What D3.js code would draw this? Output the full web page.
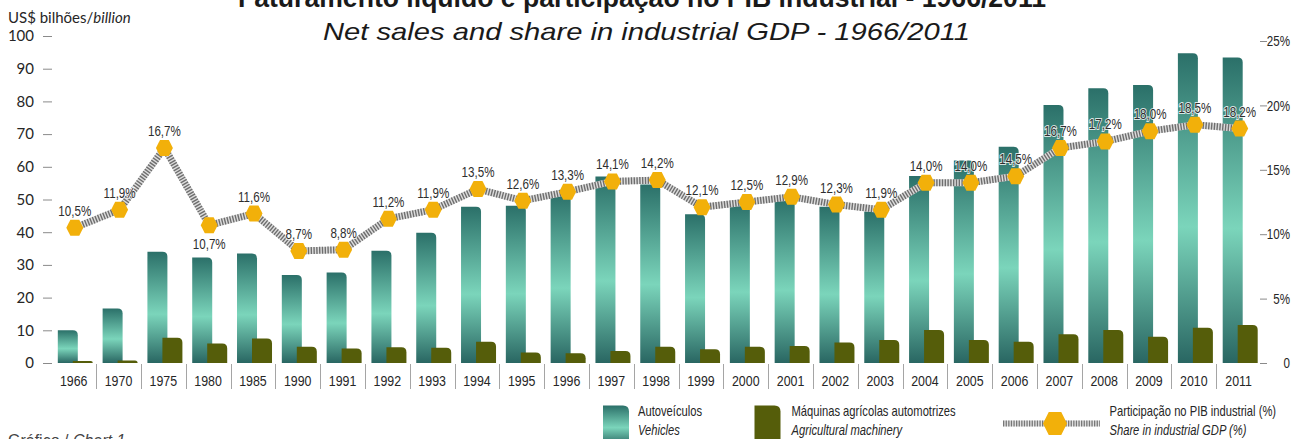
<!DOCTYPE html>
<html>
<head>
<meta charset="utf-8">
<script src="https://cdn.jsdelivr.net/npm/d3@7"></script>
<style>
  html, body { margin: 0; padding: 0; background: #fff; }
  svg { display: block; }
</style>
</head>
<body>
<svg id="chart" width="1300" height="439"></svg>
<script>
// ---------------- data ----------------
const categories = ["1966","1970","1975","1980","1985","1990","1991","1992","1993","1994","1995","1996","1997","1998","1999","2000","2001","2002","2003","2004","2005","2006","2007","2008","2009","2010","2011"];
const vehicles = [10.0,16.7,34.0,32.3,33.5,26.9,27.7,34.3,39.8,47.8,48.1,52.1,57.0,54.6,45.5,49.3,50.4,47.8,46.3,57.2,61.9,66.1,78.9,84.0,85.0,94.7,93.4];
const agMachinery = [0.6,0.8,7.7,6.0,7.5,5.0,4.4,4.8,4.7,6.5,3.2,3.0,3.7,5.0,4.2,5.0,5.2,6.3,7.0,10.1,7.0,6.5,8.8,10.1,8.0,10.8,11.6];
const gdpShare = [10.5,11.9,16.7,10.7,11.6,8.7,8.8,11.2,11.9,13.5,12.6,13.3,14.1,14.2,12.1,12.5,12.9,12.3,11.9,14.0,14.0,14.5,16.7,17.2,18.0,18.5,18.2];
const leftTicks = [0,10,20,30,40,50,60,70,80,90,100];
const rightTicks = [0,5,10,15,20,25];

const titlePt = "Faturamento líquido e participação no PIB industrial - 1966/2011";
const titleEn = "Net sales and share in industrial GDP - 1966/2011";

// ---------------- setup ----------------
const svg = d3.select("#chart");
const SANS = '"Liberation Sans", Arial, sans-serif';
const SX = 0.8; // horizontal squeeze to emulate a narrow face
const TEXT = "#262626";

const x = d3.scaleBand().domain(categories).range([51.3, 1261]).padding(0);
const yL = d3.scaleLinear().domain([0, 100]).range([363, 36]);
const yR = d3.scaleLinear().domain([0, 25]).range([363, 41]);

const defs = svg.append("defs");
const grad = defs.append("linearGradient").attr("id", "vehGrad")
  .attr("x1", 0).attr("y1", 0).attr("x2", 0).attr("y2", 1);
grad.append("stop").attr("offset", "0").attr("stop-color", "#2b7069");
grad.append("stop").attr("offset", "0.56").attr("stop-color", "#7bd5bb");
grad.append("stop").attr("offset", "1").attr("stop-color", "#296662");

function barPath(x0, w, yTop, yBase, r) {
  const h = yBase - yTop;
  const rr = Math.max(0, Math.min(r, h, w / 2));
  return `M${x0},${yBase}V${yTop}H${x0 + w - rr}Q${x0 + w},${yTop} ${x0 + w},${yTop + rr}V${yBase}Z`;
}
function hexPath(cx, cy, hw, hh) {
  const k = hw * 0.52;
  return `M${cx - hw},${cy}L${cx - k},${cy - hh}L${cx + k},${cy - hh}L${cx + hw},${cy}L${cx + k},${cy + hh}L${cx - k},${cy + hh}Z`;
}
// narrow text placed at (tx, ty)
function narrowText(parent, tx, ty, size) {
  return parent.append("text")
    .attr("transform", `translate(${tx},${ty}) scale(${SX},1)`)
    .attr("font-family", SANS).attr("font-size", size).attr("fill", TEXT);
}

// ---------------- titles ----------------
svg.append("text")
  .attr("x", 238).attr("y", 7)
  .attr("font-family", SANS).attr("font-weight", "bold").attr("font-size", 28)
  .attr("fill", "#1a1a1a")
  .attr("textLength", 808).attr("lengthAdjust", "spacingAndGlyphs")
  .text(titlePt);
svg.append("text")
  .attr("x", 323).attr("y", 40)
  .attr("font-family", SANS).attr("font-style", "italic").attr("font-size", 24)
  .attr("fill", "#1a1a1a")
  .attr("textLength", 647).attr("lengthAdjust", "spacingAndGlyphs")
  .text(titleEn);

const unit = svg.append("text").attr("x", 8).attr("y", 23)
  .attr("font-family", "Lato, sans-serif").attr("font-size", 15).attr("fill", TEXT);
unit.append("tspan").text("US$ bilhões/");
unit.append("tspan").attr("font-style", "italic").text("billion");

const chartNo = svg.append("text").attr("x", 8).attr("y", 446)
  .attr("font-family", SANS).attr("font-size", 16).attr("fill", "#444");
chartNo.append("tspan").text("Gráfico / ");
chartNo.append("tspan").attr("font-style", "italic").text("Chart 1");

// ---------------- axes ----------------
const axL = svg.append("g").attr("transform", "translate(52,0)")
  .call(d3.axisLeft(yL).tickValues(leftTicks).tickSize(9).tickPadding(9));
axL.select(".domain").remove();
axL.selectAll(".tick line").attr("stroke", "#8a8a8a");
axL.selectAll(".tick text").attr("font-family", "Lato, sans-serif").attr("font-size", 15).attr("fill", TEXT);

const axR = svg.append("g").attr("transform", "translate(1260,0)")
  .call(d3.axisRight(yR).tickValues(rightTicks).tickSize(7).tickFormat(d => d === 0 ? "0" : d + "%"));
axR.select(".domain").remove();
axR.selectAll(".tick line").attr("stroke", "#8a8a8a");
axR.selectAll(".tick text").attr("x", 30 / SX).attr("text-anchor", "end")
  .attr("transform", `scale(${SX},1)`)
  .attr("font-family", SANS).attr("font-size", 14.5).attr("fill", TEXT);

const axB = svg.append("g").attr("transform", "translate(0,363)")
  .call(d3.axisBottom(x).tickSize(0).tickPadding(11.5));
axB.select(".domain").remove();
axB.selectAll(".tick text").attr("transform", `scale(${SX},1)`)
  .attr("font-family", SANS).attr("font-size", 15.5).attr("fill", TEXT);

// separators between categories
svg.append("g").selectAll("line").data(categories.slice(1)).join("line")
  .attr("x1", d => Math.round(x(d)) + 0.5).attr("x2", d => Math.round(x(d)) + 0.5)
  .attr("y1", 364).attr("y2", 389)
  .attr("stroke", "#a5a5a5").attr("stroke-width", 1);

// ---------------- bars ----------------
svg.append("g").selectAll("path").data(categories).join("path")
  .attr("d", (d, i) => barPath(x(d) + 6.5, 20, yL(vehicles[i]), yL(0), 5))
  .attr("fill", "url(#vehGrad)");

svg.append("g").selectAll("path").data(categories).join("path")
  .attr("d", (d, i) => barPath(x(d) + 21.5, 20, yL(agMachinery[i]), yL(0), 5))
  .attr("fill", "#555d0a");

// ---------------- line ----------------
const px = d => x(d) + 23.5;
const line = d3.line().x(d => px(d)).y((d, i) => yR(gdpShare[i]));
svg.append("path").datum(categories).attr("d", line)
  .attr("fill", "none").attr("stroke", "#dcdcdc").attr("stroke-width", 7);
svg.append("path").datum(categories).attr("d", line)
  .attr("fill", "none").attr("stroke", "#6e6e6e").attr("stroke-width", 7)
  .attr("stroke-dasharray", "1.4 1.4");

svg.append("g").selectAll("path").data(categories).join("path")
  .attr("d", (d, i) => hexPath(px(d), yR(gdpShare[i]), 8.5, 8))
  .attr("fill", "#f2b00a");

const fmt = v => d3.format(".1f")(v).replace(".", ",") + "%";
const below = new Set(["1980"]);
const labG = svg.append("g");
categories.forEach((d, i) => {
  const ty = below.has(d) ? yR(gdpShare[i]) + 24 : yR(gdpShare[i]) - 12;
  narrowText(labG, px(d), ty, 14.5)
    .attr("text-anchor", "middle").attr("fill", "#2e2e2e")
    .attr("stroke", "#fff").attr("stroke-width", 2).attr("stroke-opacity", 0.8).attr("paint-order", "stroke")
    .text(fmt(gdpShare[i]));
});

// ---------------- legend ----------------
const lg = svg.append("g");
lg.append("path").attr("d", barPath(603, 26, 405.5, 445, 6)).attr("fill", "url(#vehGrad)");
narrowText(lg, 638, 416, 14).text("Autoveículos");
narrowText(lg, 638, 434.5, 14).attr("font-style", "italic").text("Vehicles");

lg.append("path").attr("d", barPath(754.5, 26, 405.5, 445, 6)).attr("fill", "#555d0a");
narrowText(lg, 791.5, 416, 14).text("Máquinas agrícolas automotrizes");
narrowText(lg, 791.5, 434.5, 14).attr("font-style", "italic").text("Agricultural machinery");

lg.append("line").attr("x1", 1003).attr("x2", 1100).attr("y1", 423.5).attr("y2", 423.5)
  .attr("stroke", "#e2e2e2").attr("stroke-width", 6);
lg.append("line").attr("x1", 1003).attr("x2", 1100).attr("y1", 423.5).attr("y2", 423.5)
  .attr("stroke", "#777").attr("stroke-width", 6).attr("stroke-dasharray", "1.3 1.3");
lg.append("path").attr("d", hexPath(1055, 423.5, 12, 11.5)).attr("fill", "#f2b00a");
narrowText(lg, 1109.5, 416, 14).text("Participação no PIB industrial (%)");
narrowText(lg, 1109.5, 434.5, 14).attr("font-style", "italic").text("Share in industrial GDP (%)");
</script>
</body>
</html>
